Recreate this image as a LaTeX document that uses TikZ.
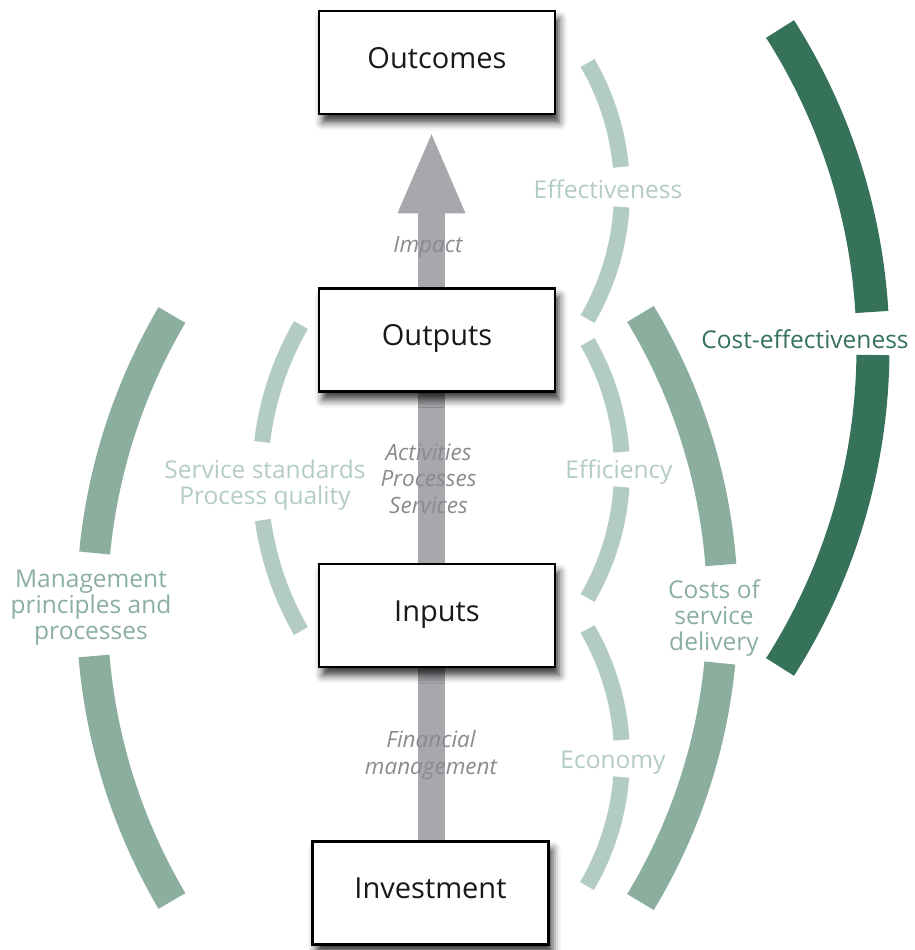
\documentclass[tikz,border=0pt]{standalone}
\usepackage{fontspec}
\setmainfont{Open Sans}
\usetikzlibrary{arrows.meta,shadows.blur}
\definecolor{lightg}{HTML}{B3CCC2}
\definecolor{midg}{HTML}{8BAE9F}
\definecolor{darkg}{HTML}{357259}
\definecolor{shaftc}{HTML}{A7A8AC}
\definecolor{labgray}{HTML}{8A8B8F}
\pgfdeclarelayer{background}
\pgfsetlayers{background,main}
% right-bulging arc piece: style, cx, cy, R, y1, y2
\newcommand\rarcpiece[6]{%
  \draw[#1] ({#2+#4*cos(asin((#5-#3)/#4))},#5) arc[start angle={asin((#5-#3)/#4)}, end angle={asin((#6-#3)/#4)}, radius=#4];}
% left-bulging arc piece
\newcommand\larcpiece[6]{%
  \draw[#1] ({#2-#4*cos(asin((#5-#3)/#4))},#5) arc[start angle={180-asin((#5-#3)/#4)}, end angle={180-asin((#6-#3)/#4)}, radius=#4];}
\begin{document}
\begin{tikzpicture}[x=1pt,y=-1pt,
  box/.style={draw=black, line width=2.8pt, fill=white, minimum width=236pt, minimum height=103pt,
    inner sep=0pt, text height=20pt, text depth=9pt, font=\fontsize{29}{32}\selectfont, text=black!90,
    blur shadow={shadow xshift=4pt, shadow yshift=-8pt, shadow blur radius=8pt, shadow opacity=80}},
  shaft/.style={draw=shaftc, line width=27pt},
  thinarc/.style={draw=lightg, line width=16pt},
  midarc/.style={draw=midg, line width=31pt},
  darkarc/.style={draw=darkg, line width=33pt},
  lightlab/.style={text=lightg, font=\fontsize{24.5}{26}\selectfont, align=center, inner sep=0pt},
  midlab/.style={text=midg, font=\fontsize{24.5}{26}\selectfont, align=center, inner sep=0pt},
  darklab/.style={text=darkg, font=\fontsize{24.5}{26}\selectfont, align=center, inner sep=0pt},
  graylab/.style={text=labgray, font=\itshape\fontsize{22.5}{26.5}\selectfont, align=center, inner sep=0pt}
]
\useasboundingbox (0,0) rectangle (914,950);

% light arcs (right)
\rarcpiece{thinarc}{367}{191}{255}{63}{167}
\rarcpiece{thinarc}{367}{191}{255}{207}{319}
\rarcpiece{thinarc}{367}{470}{255}{342}{452}
\rarcpiece{thinarc}{367}{470}{255}{487}{598}
\rarcpiece{thinarc}{367}{757}{255}{629}{740}
\rarcpiece{thinarc}{367}{757}{255}{777}{886}
% light arc (left)
\larcpiece{thinarc}{566}{478}{306}{325}{442}
\larcpiece{thinarc}{566}{478}{306}{520}{631}
% big arcs
\larcpiece{midarc}{669}{608}{577}{315}{553}
\larcpiece{midarc}{669}{608}{577}{656}{901}
\rarcpiece{midarc}{154.5}{608}{568}{314}{565}
\rarcpiece{midarc}{154.5}{608}{568}{663}{902}
\rarcpiece{darkarc}{279}{348}{594}{29}{312}
\rarcpiece{darkarc}{279}{348}{594}{355}{667}

% arc labels
\node[lightlab, anchor=base] (leff) at (608,198) {Effectiveness};
\node[lightlab, anchor=base] (leffi) at (619,478) {Efficiency};
\node[lightlab, anchor=base] (lecon) at (613,768) {Economy};
\node[lightlab] (lserv) at (265,484.7) {Service standards\\Process quality};
\node[midlab] (lmgmt) at (91,608) {Management\\principles and\\processes};
\node[midlab] (lcost) at (714,617.6) {Costs of\\service\\delivery};
\node[darklab, anchor=base] (lce) at (805,348) {Cost-effectiveness};

% boxes
\node[box] (outcomes) at (437,62.5) {Outcomes};
\node[box] (outputs) at (437,340) {Outputs};
\node[box] (inputs) at (437,615.5) {Inputs};
\node[box] (investment) at (430.5,893) {Investment};

% shafts
\begin{pgfonlayer}{background}
\draw[shaft, -{Triangle[length=83pt,width=61pt]}, shorten >=15pt]
  ([xshift=-5.5pt]outputs.north) -- ([xshift=-5.5pt]outcomes.south);
\draw[shaft] ([xshift=-5.5pt]inputs.north) -- ([xshift=-5.5pt]outputs.south);
\draw[shaft] ([xshift=1pt]investment.north) -- ([xshift=-5.5pt]inputs.south);
\end{pgfonlayer}

% shaft labels
\node[graylab, anchor=base] (limpact) at (428,252) {Impact};
\node[graylab] (lact) at (428.5,478.4) {Activities\\Processes\\Services};
\node[graylab] (lfin) at (431,755) {Financial\\management};
\end{tikzpicture}
\end{document}
